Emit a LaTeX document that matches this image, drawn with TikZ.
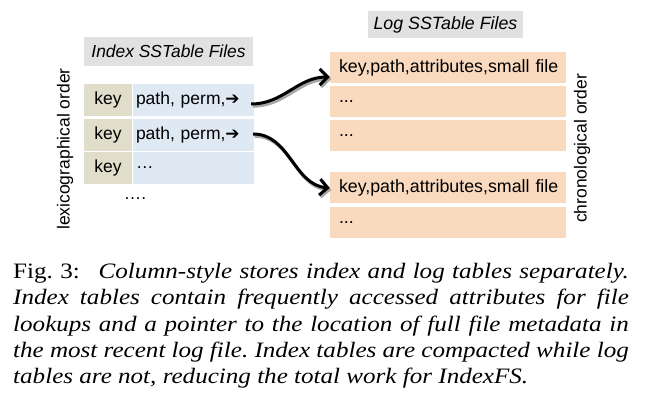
\documentclass[tikz,border=0pt]{standalone}
\usepackage{fontspec}
\setmainfont{Liberation Serif}
\setsansfont{Liberation Sans}
\newfontfamily\arrowfont{DejaVu Sans}
\usetikzlibrary{arrows.meta}

\definecolor{hdrgray}{RGB}{225,225,225}
\definecolor{keybeige}{RGB}{224,221,202}
\definecolor{valblue}{RGB}{222,233,244}
\definecolor{logorange}{RGB}{250,218,191}

\begin{document}
\begin{tikzpicture}[x=1pt,y=-1pt,
    cell/.style={inner sep=0pt, minimum height=32pt, font=\sffamily\fontsize{17.5}{20}\selectfont},
    keycell/.style={cell, fill=keybeige, minimum width=48pt},
    valcell/.style={cell, fill=valblue, inner xsep=3pt, text width=115pt, align=left},
    logcell/.style={cell, fill=logorange, minimum height=31pt, inner xsep=9pt, text width=218pt, align=left, font=\sffamily\fontsize{17.8}{22}\selectfont},
    header/.style={fill=hdrgray, inner sep=0pt, font=\sffamily\itshape},
    sidelabel/.style={rotate=90, font=\sffamily\fontsize{17.5}{20}\selectfont},
    pointer/.style={line width=3pt, -{Straight Barb[length=8pt,width=16pt,line width=3pt]},
        preaction={draw=black!35, line width=3.5pt, transform canvas={shift={(1.5,2)}}}}]
    \useasboundingbox (0,0) rectangle (651,403);

    % index side
    \node[header, minimum width=169pt, minimum height=29pt, font=\sffamily\itshape\fontsize{17.4}{18}\selectfont] (idxhead) at (168.5,51.5) {Index SSTable Files};
    \node[keycell] (k1) at (108,100) {key};
    \node[keycell] (k2) at (108,135) {key};
    \node[keycell] (k3) at (108,168) {key};
    \node[valcell] (v1) at (193.5,100) {path, perm,{\arrowfont\fontsize{17}{18}\selectfont ➔}};
    \node[valcell] (v2) at (193.5,135) {path, perm,{\arrowfont\fontsize{17}{18}\selectfont ➔}};
    \node[valcell] (v3) at (193.5,168) {…};
    \node[font=\sffamily\fontsize{17.5}{20}\selectfont] (more) at (135,199) {\ldots.};
    \node[sidelabel] (lexo) at (65,149) {lexicographical order};

    % log side
    \node[header, minimum width=155pt, minimum height=27pt, font=\sffamily\itshape\fontsize{17.8}{20}\selectfont] (loghead) at (445.5,24.5) {Log SSTable Files};
    \node[logcell] (l1) at (448,67.5) {\mbox{key,path,attributes,small file}};
    \node[logcell] (l2) at (448,101.5) {...};
    \node[logcell] (l3) at (448,136) {...};
    \node[logcell] (l4) at (448,187.5) {\mbox{key,path,attributes,small file}};
    \node[logcell] (l5) at (448,222.5) {...};
    \node[sidelabel] (chrono) at (582,148.5) {chronological order};

    % pointers
    \coordinate (p1) at ([yshift=-9.5pt]l1.west);
    \coordinate (p2) at ([yshift=-0.5pt]l4.west);
    \draw[pointer] ([xshift=-3pt,yshift=-4pt]v1.east) to[out=0, in=180] (p1);
    \draw[pointer] ([xshift=-1pt,yshift=1pt]v2.east) to[out=0, in=175] (p2);

    % caption
    \node[anchor=north west, inner sep=0pt, transform shape, xscale=1.14, text width=540pt, align=justify,
        font=\fontsize{22}{26.3}\selectfont\frenchspacing] (caption) at (13,263)
        {Fig.~3:\hspace{0.45em} \textit{Column-style stores index and log tables separately.\linebreak
        Index tables contain frequently accessed attributes for file\linebreak
        lookups and a pointer to the location of full file metadata in\linebreak
        the most recent log file. Index tables are compacted while log\linebreak
        tables are not, reducing the total work for IndexFS.}};
\end{tikzpicture}
\end{document}
